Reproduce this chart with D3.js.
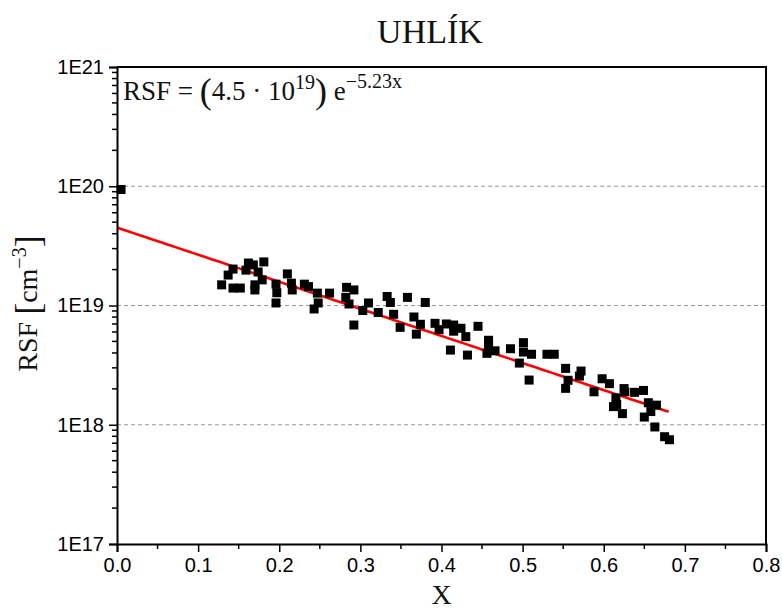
<!DOCTYPE html>
<html>
<head>
<meta charset="utf-8">
<script src="https://cdn.jsdelivr.net/npm/d3@7"></script>
<style>
  html, body { margin: 0; padding: 0; background: #fff; }
  svg { display: block; }
</style>
</head>
<body>
<svg id="chart" width="782" height="610"></svg>
<script>
// ---- data ----
const xValues = [0.005,0.129,0.143,0.152,0.137,0.143,0.162,0.168,0.181,0.159,0.170,0.170,0.179,0.174,
  0.196,0.197,0.196,0.210,0.215,0.216,0.231,0.236,0.247,0.248,0.243,0.262,0.283,0.292,0.282,0.286,
  0.292,0.303,0.310,0.322,0.333,0.337,0.341,0.349,0.358,0.366,0.374,0.369,0.380,0.392,0.397,0.406,
  0.415,0.415,0.424,0.430,0.411,0.432,0.445,0.458,0.458,0.456,0.466,0.485,0.501,0.501,0.511,0.530,
  0.539,0.496,0.508,0.553,0.556,0.553,0.572,0.570,0.598,0.607,0.588,0.625,0.626,0.638,0.649,0.615,
  0.616,0.612,0.623,0.655,0.665,0.658,0.650,0.663,0.675,0.681];
const rsfValues = [9.4e19,1.49e19,1.40e19,1.40e19,1.80e19,2.02e19,2.27e19,2.19e19,2.32e19,1.98e19,1.49e19,1.35e19,1.64e19,1.91e19,
  1.51e19,1.28e19,1.05e19,1.84e19,1.54e19,1.35e19,1.51e19,1.44e19,1.27e19,1.05e19,9.35e18,1.27e19,1.42e19,1.35e19,1.17e19,1.03e19,
  6.86e18,9.08e18,1.05e19,8.74e18,1.19e19,1.06e19,8.44e18,6.56e18,1.17e19,8.01e18,6.96e18,5.75e18,1.06e19,7.09e18,6.27e18,7.00e18,
  6.86e18,6.09e18,6.44e18,5.48e18,4.23e18,3.84e18,6.69e18,5.11e18,4.62e18,3.97e18,4.17e18,4.34e18,4.88e18,4.07e18,3.90e18,3.90e18,
  3.90e18,3.29e18,2.37e18,2.97e18,2.36e18,2.02e18,2.82e18,2.56e18,2.43e18,2.21e18,1.89e18,2.01e18,1.89e18,1.87e18,1.94e18,1.68e18,
  1.48e18,1.42e18,1.24e18,1.53e18,1.46e18,1.29e18,1.16e18,9.58e17,7.94e17,7.49e17];
const fitA = 4.5e19;      // prefactor
const fitK = -5.23;       // exponent coefficient
const fitXRange = [0, 0.68];
const xTicks = [0, 0.1, 0.2, 0.3, 0.4, 0.5, 0.6, 0.7, 0.8];
const yTicks = [1e17, 1e18, 1e19, 1e20, 1e21];
const gridValues = [1e18, 1e19, 1e20];
const titleText = "UHLÍK";

// ---- layout ----
const W = 782, H = 610;
const m = {left: 117, right: 16, top: 67, bottom: 66};
const svg = d3.select("#chart");
const x = d3.scaleLinear().domain([0, 0.8]).range([m.left, W - m.right]);
const y = d3.scaleLog().domain([1e17, 1e21]).range([H - m.bottom, m.top]);
const serif = "'Liberation Serif', 'DejaVu Serif', serif";
const sans = "'Liberation Sans', Arial, sans-serif";

// grid
svg.append("g").selectAll("line").data(gridValues).join("line")
  .attr("x1", m.left).attr("x2", W - m.right)
  .attr("y1", d => y(d)).attr("y2", d => y(d))
  .attr("stroke", "#9a9a9a").attr("stroke-width", 1)
  .attr("stroke-dasharray", "4,3");

// fit line
const fitPts = d3.range(0, 101).map(i => {
  const xv = fitXRange[0] + (fitXRange[1] - fitXRange[0]) * i / 100;
  return [xv, fitA * Math.exp(fitK * xv)];
});
svg.append("path").datum(fitPts)
  .attr("fill", "none").attr("stroke", "#ff0000").attr("stroke-width", 2.6)
  .attr("d", d3.line().x(d => x(d[0])).y(d => y(d[1])));

// points
const pts = xValues.map((v, i) => [v, rsfValues[i]]);
const s = 9;
svg.append("g").selectAll("rect").data(pts).join("rect")
  .attr("x", d => x(d[0]) - s / 2).attr("y", d => y(d[1]) - s / 2)
  .attr("width", s).attr("height", s).attr("fill", "#000");

// frame (top, right)
svg.append("path")
  .attr("d", `M${m.left},${m.top}H${W - m.right}V${H - m.bottom}`)
  .attr("fill", "none").attr("stroke", "#000").attr("stroke-width", 2);

// x axis
const xAxis = d3.axisBottom(x).tickValues(xTicks).tickFormat(d3.format(".1f"))
  .tickSize(8).tickPadding(6);
const gx = svg.append("g").attr("transform", `translate(0,${H - m.bottom})`).call(xAxis);
gx.select(".domain").attr("stroke-width", 2);
gx.selectAll(".tick line").attr("stroke-width", 1.5);
gx.selectAll("text").attr("font-family", sans).attr("font-size", 20).attr("fill", "#000");
const xMinor = d3.range(0.05, 0.8, 0.1);
gx.append("g").selectAll("line").data(xMinor).join("line")
  .attr("x1", d => x(d)).attr("x2", d => x(d)).attr("y1", 0).attr("y2", 5)
  .attr("stroke", "#000").attr("stroke-width", 1.5);

// y axis
const yAxis = d3.axisLeft(y).tickValues(yTicks)
  .tickFormat(d => "1E" + Math.round(Math.log10(d)))
  .tickSize(8).tickPadding(5);
const gy = svg.append("g").attr("transform", `translate(${m.left},0)`).call(yAxis);
gy.select(".domain").attr("stroke-width", 2);
gy.selectAll(".tick line").attr("stroke-width", 1.5);
gy.selectAll("text").attr("font-family", sans).attr("font-size", 20).attr("fill", "#000");
const yMinor = [];
[17, 18, 19, 20].forEach(e => { for (let k = 2; k <= 9; k++) yMinor.push(k * Math.pow(10, e)); });
gy.append("g").selectAll("line").data(yMinor).join("line")
  .attr("x1", 0).attr("x2", -5).attr("y1", d => y(d)).attr("y2", d => y(d))
  .attr("stroke", "#000").attr("stroke-width", 1.5);

// title
svg.append("text").attr("x", 430).attr("y", 43).attr("text-anchor", "middle")
  .attr("font-family", serif).attr("font-size", 34).attr("fill", "#111").text(titleText);

// x label
svg.append("text").attr("x", (m.left + W - m.right) / 2).attr("y", 604).attr("text-anchor", "middle")
  .attr("font-family", serif).attr("font-size", 28).attr("fill", "#111").text("X");

// y label
const yl = svg.append("text").attr("transform", `translate(37,${(m.top + H - m.bottom) / 2 - 2}) rotate(-90)`)
  .attr("text-anchor", "middle").attr("font-family", serif).attr("font-size", 28).attr("fill", "#111");
yl.append("tspan").text("RSF ");
yl.append("tspan").attr("font-size", 36).attr("dy", 3).text("[");
yl.append("tspan").attr("dy", -3).text("cm");
yl.append("tspan").attr("font-size", 20).attr("dy", -11).text("−3");
yl.append("tspan").attr("font-size", 36).attr("dy", 14).text("]");

// equation
const eq = svg.append("text").attr("x", 123).attr("y", 100)
  .attr("font-family", serif).attr("font-size", 27).attr("fill", "#111");
eq.append("tspan").text("RSF = ");
eq.append("tspan").attr("font-size", 36).attr("dy", 3).text("(");
eq.append("tspan").attr("dy", -3).text("4.5 · 10");
eq.append("tspan").attr("font-size", 20).attr("dy", -11).text("19");
eq.append("tspan").attr("font-size", 36).attr("dy", 14).text(")");
eq.append("tspan").attr("dy", -3).text(" e");
eq.append("tspan").attr("font-size", 20).attr("dy", -12).text("−5.23x");
</script>
</body>
</html>
